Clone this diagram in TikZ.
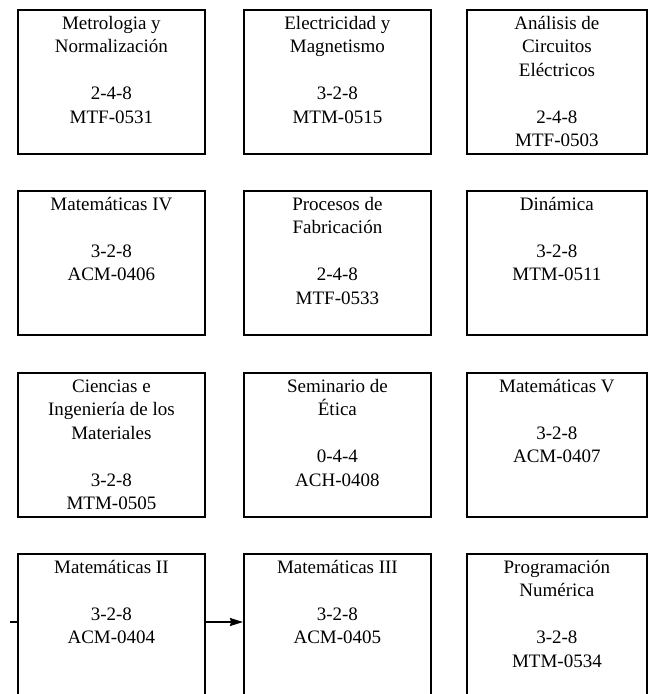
\documentclass[tikz,border=0pt]{standalone}
\usepackage{fontspec}
\setmainfont{Liberation Serif}
\usetikzlibrary{arrows.meta}
\usetikzlibrary{positioning}
\tikzset{
	materia/.style={draw, line width=1.8pt, anchor=north west, inner sep=3pt,
		minimum width=187pt, minimum height=144pt,
		font=\fontsize{19}{23.5}\selectfont},
	flecha/.style={line width=1.3pt, arrows={-Stealth[length=13pt, width=8pt, inset=1pt]}}
}
\newcommand{\Materia}[2]{\parbox[t][138pt][t]{172pt}{\centering\strut #1\\[\baselineskip]#2}}
\begin{document}
\begin{tikzpicture}[x=1pt,y=-1pt]
    \useasboundingbox (0,0) rectangle (651,694);
    \clip (0,0) rectangle (651,694);
    \def\xa{17}
    \def\xb{243}
    \def\xc{466}
    % fila 1
    \node[materia] (metrologia) at (\xa,9) {\Materia{Metrologia y\\Normalización}{2-4-8\\MTF-0531}};
    \node[materia] (electricidad) at (\xb,9) {\Materia{Electricidad y\\Magnetismo}{3-2-8\\MTM-0515}};
    \node[materia, minimum width=180pt] (analisis) at (\xc,9) {\Materia{Análisis de\\Circuitos\\Eléctricos}{2-4-8\\MTF-0503}};
    % fila 2
    \node[materia] (mate4) at (\xa,190) {\Materia{Matemáticas IV}{3-2-8\\ACM-0406}};
    \node[materia] (procesos) at (\xb,190) {\Materia{Procesos de\\Fabricación}{2-4-8\\MTF-0533}};
    \node[materia, minimum width=180pt] (dinamica) at (\xc,190) {\Materia{Dinámica}{3-2-8\\MTM-0511}};
    % fila 3
    \node[materia] (ciencias) at (\xa,372) {\Materia{Ciencias e\\Ingeniería de los\\Materiales}{3-2-8\\MTM-0505}};
    \node[materia] (etica) at (\xb,372) {\Materia{Seminario de\\Ética}{0-4-4\\ACH-0408}};
    \node[materia, minimum width=180pt] (mate5) at (\xc,372) {\Materia{Matemáticas V}{3-2-8\\ACM-0407}};
    % fila 4
    \node[materia] (mate2) at (\xa,553) {\Materia{Matemáticas II}{3-2-8\\ACM-0404}};
    \node[materia] (mate3) at (\xb,553) {\Materia{Matemáticas III}{3-2-8\\ACM-0405}};
    \node[materia, minimum width=180pt] (programacion) at (\xc,553) {\Materia{Programación\\Numérica}{3-2-8\\MTM-0534}};
    \coordinate (entrada) at (10,622);
    \draw[line width=1.3pt] (entrada) -- ([yshift=-69pt]mate2.north west);
    \draw[flecha] ([yshift=-69pt]mate2.north east) -- ([yshift=-69pt]mate3.north west);
\end{tikzpicture}
\end{document}
